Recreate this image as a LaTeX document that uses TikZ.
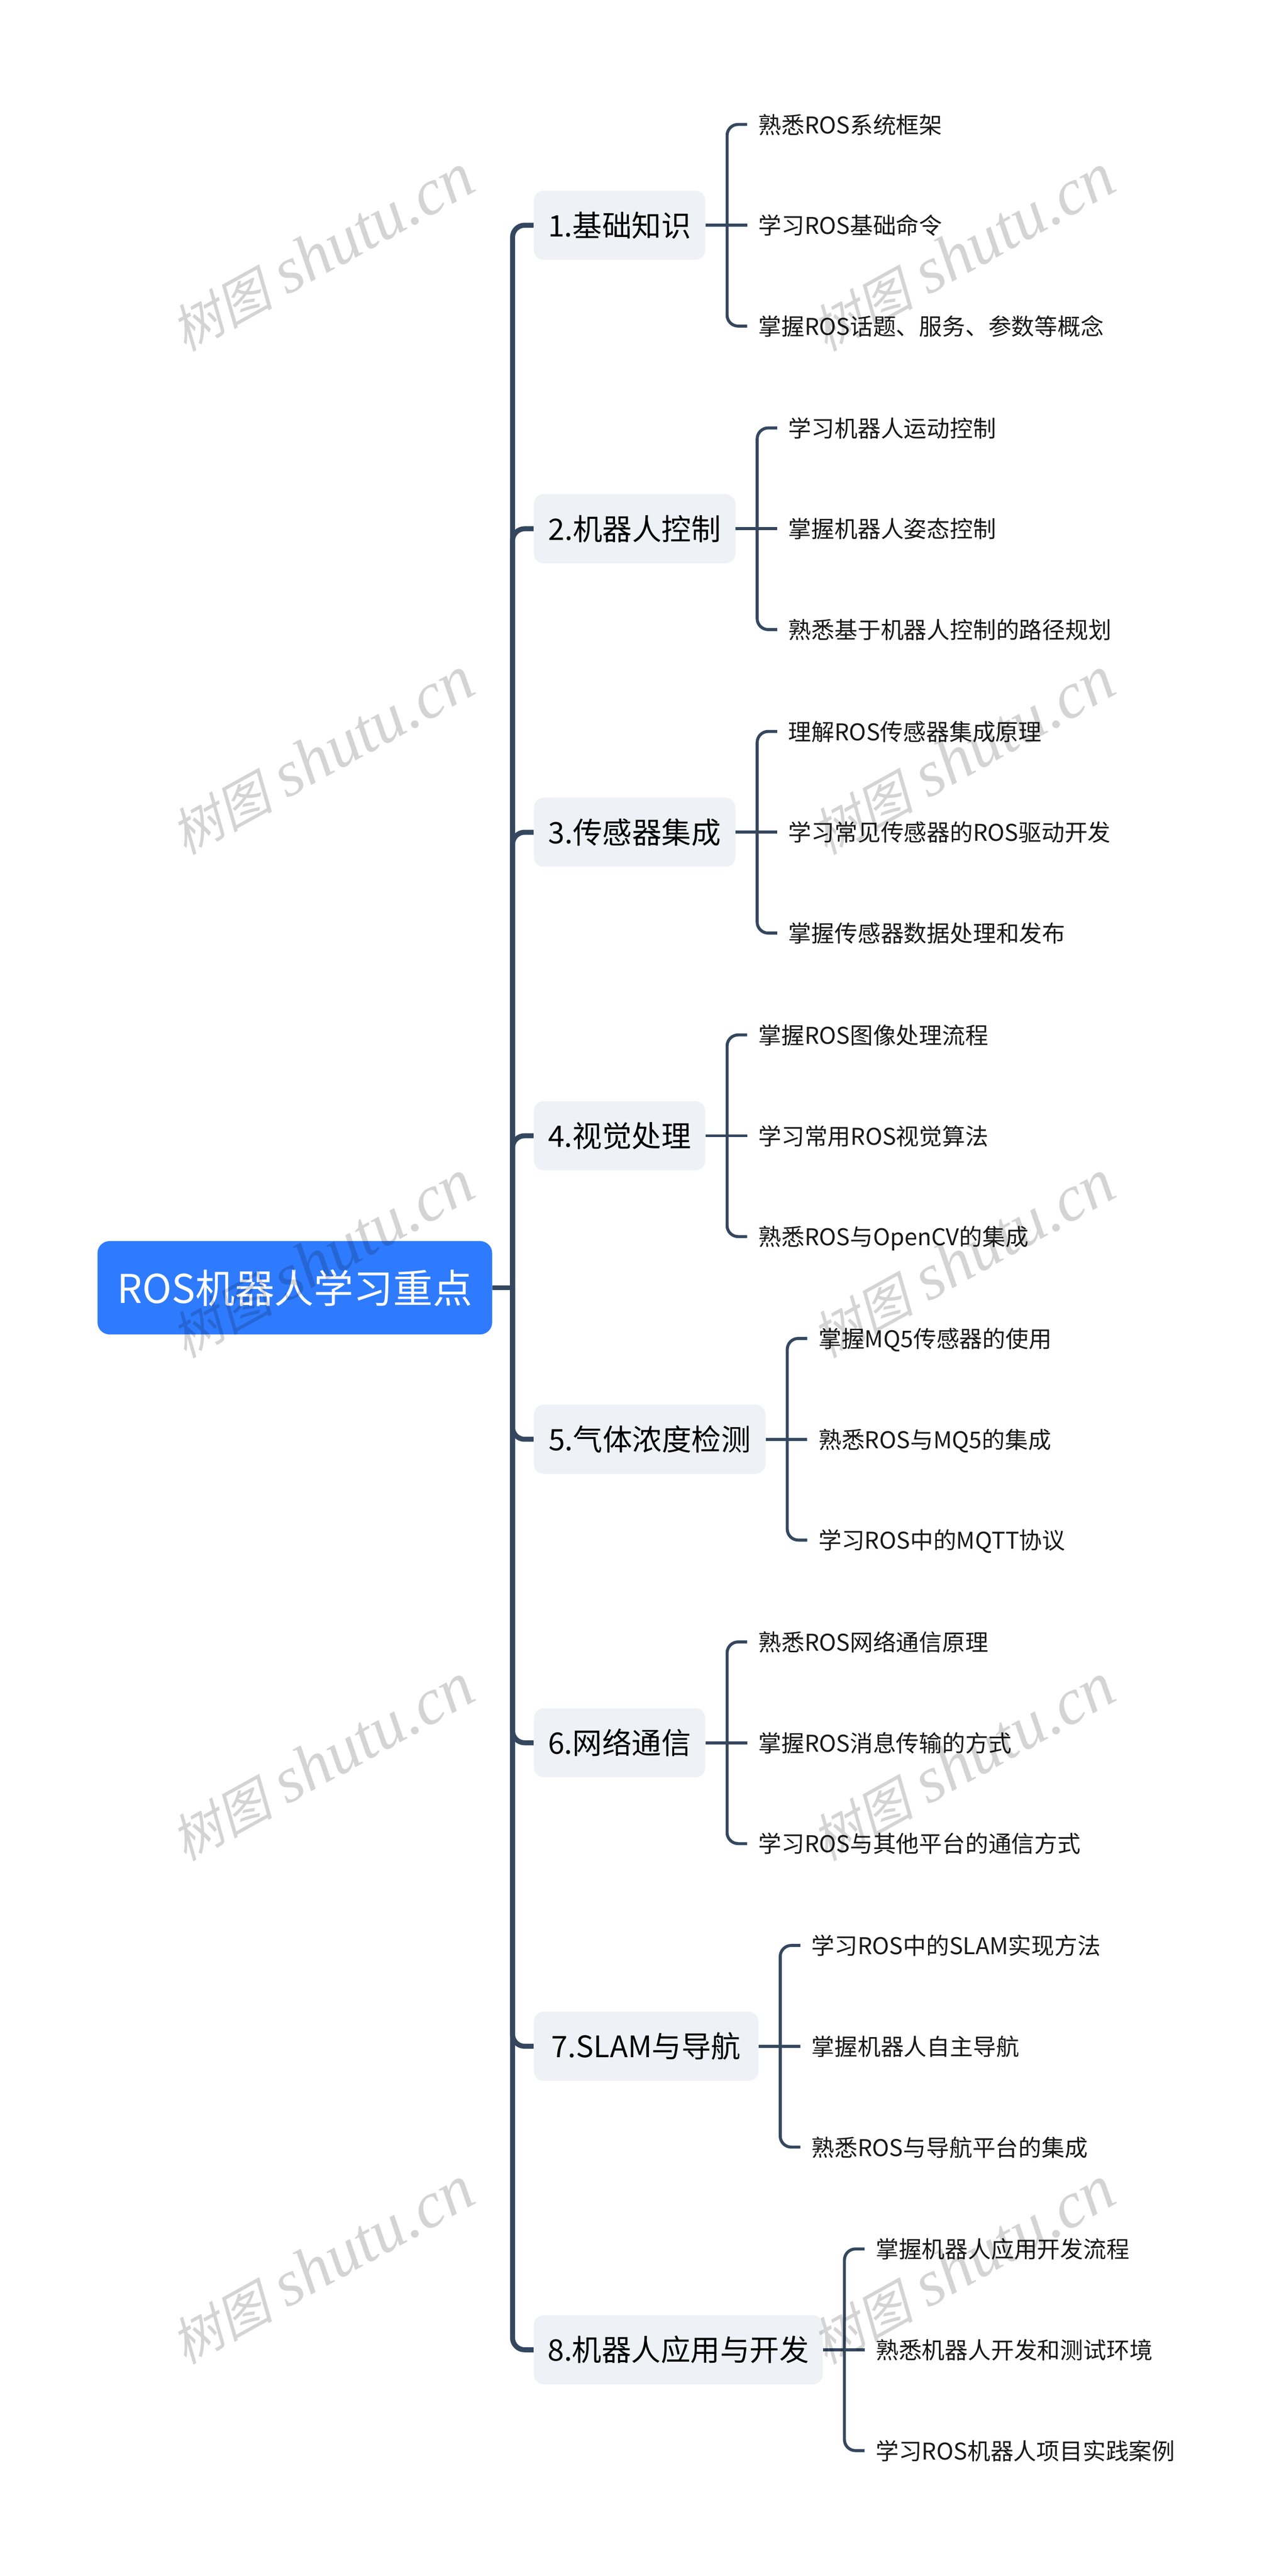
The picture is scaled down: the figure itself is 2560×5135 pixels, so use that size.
\documentclass[tikz,border=0pt]{standalone}
\usepackage{fontspec}
\usetikzlibrary{positioning}
\setmainfont{Noto Sans CJK SC}
\newfontfamily\markcjk[FakeSlant=0.23]{Noto Sans CJK SC}
\newfontfamily\marklatin{Liberation Serif}
\definecolor{linecol}{HTML}{34475F}
\definecolor{rootcol}{HTML}{2E7BFF}
\definecolor{boxcol}{HTML}{EEF2F6}
\begin{document}
\begin{tikzpicture}[x=0.5pt,y=-0.5pt]
    \tikzstyle{root}=[fill=rootcol,text=white,rounded corners=12pt,font=\fontsize{39.5}{40}\selectfont,minimum width=393.5pt,minimum height=93pt,inner sep=0pt,anchor=west]
    \tikzstyle{topic}=[fill=boxcol,text=black,rounded corners=10pt,font=\fontsize{29.5}{30}\selectfont,minimum height=69pt,inner sep=0pt,anchor=west]
    \tikzstyle{leaf}=[text=black!90,font=\fontsize{23}{23}\selectfont,inner xsep=11pt,inner ysep=0pt,text height=20pt,text depth=2pt,right=41.5pt of #1]
    \tikzstyle{trunk}=[draw=linecol,line width=5pt,rounded corners=12pt]
    \tikzstyle{twig}=[draw=linecol,line width=3pt,rounded corners=11pt]
    \tikzstyle{wmark}=[text=black,text opacity=0.17,rotate=29,font=\fontsize{65}{65}\selectfont]
    \useasboundingbox (0,0) rectangle (2560,5135);
    \node [root] (r) at (194,2567) {ROS机器人学习重点};
    \coordinate (t) at (1022,2567);

    \node [topic,minimum width=171pt] (b1) at (1064,449) {1.基础知识};
    \node [topic,minimum width=201pt] (b2) at (1064,1054) {2.机器人控制};
    \node [topic,minimum width=201pt] (b3) at (1064,1659) {3.传感器集成};
    \node [topic,minimum width=171pt] (b4) at (1064,2264) {4.视觉处理};
    \node [topic,minimum width=231pt] (b5) at (1064,2869) {5.气体浓度检测};
    \node [topic,minimum width=171pt] (b6) at (1064,3474) {6.网络通信};
    \node [topic,minimum width=224pt] (b7) at (1064,4079) {7.SLAM与导航};
    \node [topic,minimum width=288pt] (b8) at (1064,4684) {8.机器人应用与开发};

    \node [leaf=b1,yshift=100.5pt] (c11) {熟悉ROS系统框架};
    \node [leaf=b1] (c12) {学习ROS基础命令};
    \node [leaf=b1,yshift=-100.5pt] (c13) {掌握ROS话题、服务、参数等概念};
    \node [leaf=b2,yshift=100.5pt] (c21) {学习机器人运动控制};
    \node [leaf=b2] (c22) {掌握机器人姿态控制};
    \node [leaf=b2,yshift=-100.5pt] (c23) {熟悉基于机器人控制的路径规划};
    \node [leaf=b3,yshift=100.5pt] (c31) {理解ROS传感器集成原理};
    \node [leaf=b3] (c32) {学习常见传感器的ROS驱动开发};
    \node [leaf=b3,yshift=-100.5pt] (c33) {掌握传感器数据处理和发布};
    \node [leaf=b4,yshift=100.5pt] (c41) {掌握ROS图像处理流程};
    \node [leaf=b4] (c42) {学习常用ROS视觉算法};
    \node [leaf=b4,yshift=-100.5pt] (c43) {熟悉ROS与OpenCV的集成};
    \node [leaf=b5,yshift=100.5pt] (c51) {掌握MQ5传感器的使用};
    \node [leaf=b5] (c52) {熟悉ROS与MQ5的集成};
    \node [leaf=b5,yshift=-100.5pt] (c53) {学习ROS中的MQTT协议};
    \node [leaf=b6,yshift=100.5pt] (c61) {熟悉ROS网络通信原理};
    \node [leaf=b6] (c62) {掌握ROS消息传输的方式};
    \node [leaf=b6,yshift=-100.5pt] (c63) {学习ROS与其他平台的通信方式};
    \node [leaf=b7,yshift=100.5pt] (c71) {学习ROS中的SLAM实现方法};
    \node [leaf=b7] (c72) {掌握机器人自主导航};
    \node [leaf=b7,yshift=-100.5pt] (c73) {熟悉ROS与导航平台的集成};
    \node [leaf=b8,yshift=100.5pt] (c81) {掌握机器人应用开发流程};
    \node [leaf=b8] (c82) {熟悉机器人开发和测试环境};
    \node [leaf=b8,yshift=-100.5pt] (c83) {学习ROS机器人项目实践案例};

    \draw [trunk] (r.east) -- (t);
    \foreach \i in {1,...,8} {
        \draw [trunk] (t) |- (b\i.west);
        \coordinate [right=21.5pt of b\i] (j\i);
        \draw [twig] (b\i.east) -- (c\i2.west);
        \draw [twig] (j\i) |- (c\i1.west);
        \draw [twig] (j\i) |- (c\i3.west);
    }

    % watermark on top of everything
    \foreach \y in {504,1507,2510,3513,4516} {
        \foreach \x in {642,1920} {
            \node [wmark] (w\x\y) at (\x,\y) {{\markcjk\fontsize{51}{51}\selectfont 树图} \marklatin\itshape shutu.cn};
        }
    }
\end{tikzpicture}
\end{document}
